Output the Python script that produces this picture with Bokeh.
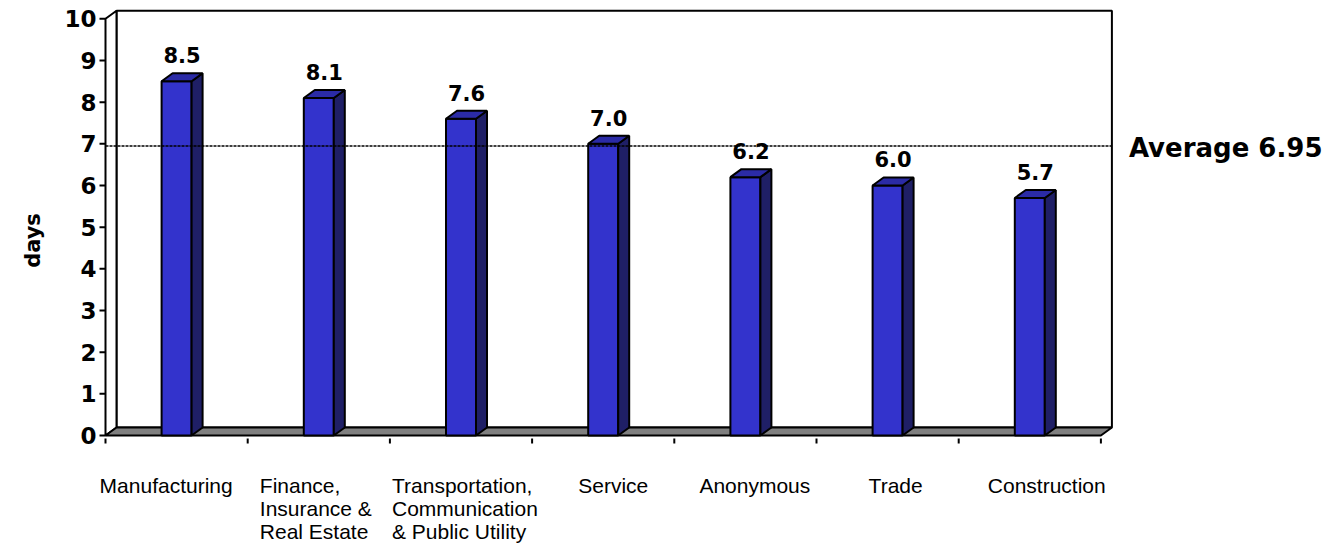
import math
from bokeh.plotting import figure
from bokeh.models import Range1d
from bokeh.core.properties import value
from bokeh.embed import file_html
from bokeh.resources import INLINE

# ---- data ----
categories = ["Manufacturing", "Finance,\nInsurance &\nReal Estate",
              "Transportation,\nCommunication\n& Public Utility", "Service",
              "Anonymous", "Trade", "Construction"]
days = [8.5, 8.1, 7.6, 7.0, 6.2, 6.0, 5.7]
average = 6.95
y_ticks = list(range(0, 11))
y_label = "days"

# ---- layout / style constants ----
WIDTH, HEIGHT = 1335, 546
ORIGIN_X, ORIGIN_Y = 105, 435   # pixel position of (0, 0)
PX_X = 142.2          # pixels per category
PX_Y = 41.67          # pixels per day
DX = 11 / PX_X        # 3D depth (x)
DY = 8 / PX_Y         # 3D depth (y)
W = 30 / PX_X         # bar front width
label_dx = [-77, -59, -69, -25, -46, -19, -42]   # text offsets (px)
FRONT = "#3333CC"
TOP = "#2B2BA6"
SIDE = "#1F1F66"
FLOOR = "#808080"
BOLD = value("DejaVu Sans")
REG = value("Liberation Sans")

n = len(categories)
ymax = 10
xs0 = -ORIGIN_X / PX_X
ys1 = ORIGIN_Y / PX_Y
p = figure(width=WIDTH, height=HEIGHT,
           x_range=Range1d(xs0, xs0 + WIDTH / PX_X),
           y_range=Range1d(ys1 - HEIGHT / PX_Y, ys1),
           x_axis_location=None, y_axis_location=None,
           min_border=0, output_backend="svg", toolbar_location=None)
p.outline_line_color = None
p.grid.visible = False
p.background_fill_color = "white"

# walls and floor
wall_xs = [[DX, n + DX, n + DX, DX],
           [0, 0, DX, DX]]
wall_ys = [[DY, DY, ymax + DY, ymax + DY],
           [0, ymax, ymax + DY, DY]]
p.patches(wall_xs, wall_ys, fill_color="white", line_color="black", line_width=2)
p.patch([0, n, n + DX, DX], [0, 0, DY, DY], fill_color=FLOOR,
        line_color="black", line_width=2)

# ticks
p.segment(x0=[-6 / PX_X] * len(y_ticks), y0=y_ticks, x1=[0] * len(y_ticks),
          y1=y_ticks, line_color="black", line_width=2)
p.segment(x0=list(range(n + 1)), y0=[-3 / PX_Y] * (n + 1),
          x1=list(range(n + 1)), y1=[-8 / PX_Y] * (n + 1),
          line_color="black", line_width=2)
p.text(x=[-9 / PX_X] * len(y_ticks), y=y_ticks, text=[str(t) for t in y_ticks],
       text_align="right", text_baseline="middle", text_font=BOLD,
       text_font_style="bold", text_font_size="23px", text_color="black")

# bars
xs, ys, cols = [], [], []
centers = [i + 0.5 for i in range(n)]
for c, v in zip(centers, days):
    l, r = c - W / 2, c + W / 2
    xs.append([l, r, r, l]); ys.append([0, 0, v, v]); cols.append(FRONT)
    xs.append([r, r + DX, r + DX, r]); ys.append([0, DY, v + DY, v]); cols.append(SIDE)
    xs.append([l, r, r + DX, l + DX]); ys.append([v, v, v + DY, v + DY]); cols.append(TOP)
p.patches(xs, ys, fill_color=cols, line_color="black", line_width=2)

# average line
p.line([0, n + DX], [average, average], line_dash="3 1", line_color="black",
       line_width=1.5)

# category labels
p.text(x=[c + d / PX_X for c, d in zip(centers, label_dx)], y=[-38 / PX_Y] * n,
       text=categories, text_align="left", text_baseline="top",
       text_font=REG, text_font_size="21px", text_line_height=1.0,
       text_color="black")

# value labels
p.text(x=[c + DX / 2 for c in centers], y=[v + 26 / PX_Y for v in days],
       text=[f"{v:.1f}" for v in days], text_align="center",
       text_baseline="middle", text_font=BOLD, text_font_style="bold",
       text_font_size="21px", text_color="black")

# average label
p.text(x=[n + 28 / PX_X], y=[average - 2 / PX_Y], text=[f"Average {average}"],
       text_align="left", text_baseline="middle", text_font=BOLD,
       text_font_style="bold", text_font_size="26px", text_color="black")

# y axis title
p.text(x=[-73 / PX_X], y=[(ORIGIN_Y - 240) / PX_Y], text=[y_label],
       angle=math.pi / 2, text_align="center", text_baseline="middle",
       text_font=BOLD, text_font_style="bold", text_font_size="21px",
       text_color="black")

open("out.html", "w").write(file_html(p, INLINE))
